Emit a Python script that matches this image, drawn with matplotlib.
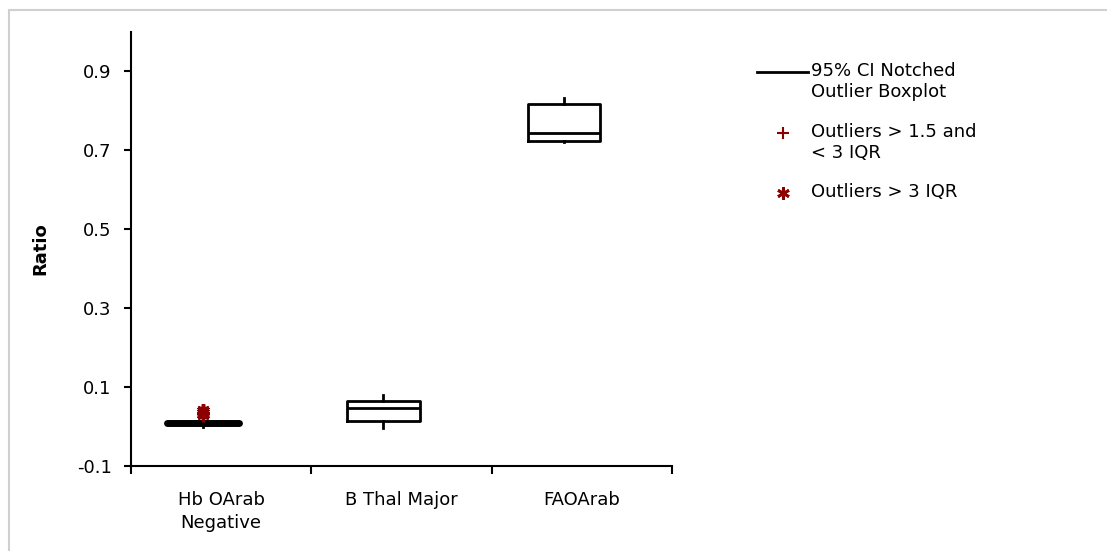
import matplotlib
matplotlib.use("Agg")
import matplotlib.pyplot as plt
from matplotlib.lines import Line2D
from matplotlib.patches import Rectangle

plt.rcParams["font.family"] = ["DejaVu Sans"]
plt.rcParams["font.size"] = 13

# categories and box statistics (ratio)
grupos = ["Hb OArab\nNegative", "B Thal Major", "FAOArab"]
bajo = [0.000, -0.004, 0.720]
q1 = [0.007, 0.014, 0.723]
mediana = [0.009, 0.047, 0.743]
q3 = [0.012, 0.065, 0.817]
alto = [0.012, 0.080, 0.832]

# outliers for the first group
atipicos_leves = [0.026]                   # > 1.5 and < 3 IQR
atipicos_extremos = [0.030, 0.036, 0.042]  # > 3 IQR

rojo = "#8b0000"
asterisco = (6, 2, 0)

fig = plt.figure(figsize=(11.07, 5.51), dpi=100)
W, H = 1107, 551
ax = fig.add_axes([131 / W, 1 - 466 / H, 541 / W, 434 / H])

# grey chart border
fig.patches.append(Rectangle((9 / W, -0.05), 1.1, 1 - 10 / H + 0.05,
                             transform=fig.transFigure, fill=False,
                             edgecolor="#d0d0d0", linewidth=1.5))

stats = []
for i in range(len(grupos)):
    stats.append({"whislo": bajo[i], "q1": q1[i], "med": mediana[i],
                  "q3": q3[i], "whishi": alto[i], "fliers": []})

pos = [i + 0.4 for i in range(len(grupos))]
ax.bxp(stats, positions=pos, widths=0.4, showcaps=False, showfliers=False,
       boxprops=dict(color="black", linewidth=2),
       medianprops=dict(color="black", linewidth=2),
       whiskerprops=dict(color="black", linewidth=2))

# Hb box is so narrow it reads as one thick bar
ax.plot([pos[0] - 0.2, pos[0] + 0.2], [mediana[0], mediana[0]],
        color="black", linewidth=5, solid_capstyle="round", zorder=3)

ax.plot([pos[0]] * len(atipicos_leves), atipicos_leves, linestyle="none",
        marker="+", color=rojo, markersize=8, markeredgewidth=2, zorder=4)
ax.plot([pos[0]] * len(atipicos_extremos), atipicos_extremos, linestyle="none",
        marker=asterisco, color=rojo, markersize=9, markeredgewidth=2.5, zorder=4)

ax.set_xlim(0, 3)
ax.set_ylim(-0.1, 1.0)
ax.set_yticks([-0.1, 0.1, 0.3, 0.5, 0.7, 0.9])
ax.set_yticklabels(["-0.1", "0.1", "0.3", "0.5", "0.7", "0.9"])
ax.set_xticks([0, 1, 2, 3])
ax.set_xticklabels([])
ax.set_xticks([0.5, 1.5, 2.5], minor=True)
ax.set_xticklabels(grupos, minor=True, linespacing=1.35)
ax.tick_params(axis="x", which="minor", length=0, pad=18)
ax.tick_params(axis="x", which="major", length=6, width=1.5, direction="out")
ax.tick_params(axis="y", length=5, width=1.5, pad=9)

for s in ["top", "right"]:
    ax.spines[s].set_visible(False)
for s in ["left", "bottom"]:
    ax.spines[s].set_linewidth(1.5)

ax.set_ylabel("Ratio", fontweight="bold", labelpad=20)

# legend, handles aligned with the first line of each entry
def fx(px):
    return px / W

def fy(py):
    return 1 - py / H

fig.add_artist(Line2D([fx(757), fx(808)], [fy(72), fy(72)], color="black", linewidth=2))
fig.add_artist(Line2D([fx(783)], [fy(133)], linestyle="none", marker="+", color=rojo,
                      markersize=8, markeredgewidth=1.5))
fig.add_artist(Line2D([fx(783)], [fy(193)], linestyle="none", marker=asterisco, color=rojo,
                      markersize=9, markeredgewidth=2))
for y, txt in [(72, "95% CI Notched\nOutlier Boxplot"),
               (133, "Outliers > 1.5 and\n< 3 IQR"),
               (193, "Outliers > 3 IQR")]:
    fig.text(fx(811), fy(y - 10), txt, ha="left", va="top", linespacing=1.2)

fig.savefig("out.png", dpi=100)
